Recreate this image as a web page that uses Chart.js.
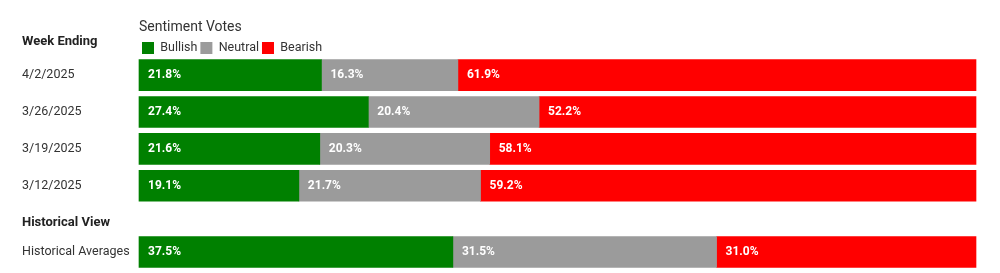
<!DOCTYPE html>
<html>
<head>
<meta charset="utf-8">
<script src="https://cdn.jsdelivr.net/npm/chart.js@4"></script>
<style>
  html, body { margin: 0; padding: 0; background: #fff; }
  #wrap { width: 1000px; height: 273px; }
</style>
</head>
<body>
<div id="wrap"><canvas id="sentimentChart" width="1000" height="273"></canvas></div>
<script>
// donnees du graphique
const rowLabels = ['4/2/2025', '3/26/2025', '3/19/2025', '3/12/2025', 'Historical Averages'];
const rowPos = [0, 1, 2, 3, 4.8];
const bullish = [21.8, 27.4, 21.6, 19.1, 37.5];
const neutral = [16.3, 20.4, 20.3, 21.7, 31.5];
const bearish = [61.9, 52.2, 58.1, 59.2, 31.0];
const headers = [['Week Ending', -0.9], ['Historical View', 4.0]];

const textColor = '#333333';

function toPoints(values) {
    return values.map((v, i) => ({ x: v, y: rowPos[i] }));
}

// etiquettes en pourcentage dans les barres
const barLabels = {
    id: 'barLabels',
    afterDatasetsDraw(chart) {
        const ctx = chart.ctx;
        ctx.save();
        ctx.font = 'bold 12px Roboto';
        ctx.fillStyle = '#ffffff';
        ctx.textBaseline = 'middle';
        chart.data.datasets.forEach((ds, i) => {
            chart.getDatasetMeta(i).data.forEach((bar, j) => {
                ctx.fillText(ds.data[j].x.toFixed(1) + '%', bar.base + 9, bar.y);
            });
        });
        ctx.restore();
    }
};

// titres de sections a gauche
const sectionHeaders = {
    id: 'sectionHeaders',
    afterDraw(chart) {
        const ctx = chart.ctx;
        const y = chart.scales.y;
        ctx.save();
        ctx.font = 'bold 13px Roboto';
        ctx.fillStyle = '#222222';
        ctx.textBaseline = 'middle';
        headers.forEach(h => ctx.fillText(h[0], 22, y.getPixelForValue(h[1])));
        ctx.restore();
    }
};

new Chart(document.getElementById('sentimentChart'), {
    type: 'bar',
    data: {
        datasets: [
            { label: 'Bullish', data: toPoints(bullish), backgroundColor: '#008000', clip: false },
            { label: 'Neutral', data: toPoints(neutral), backgroundColor: '#9b9b9b', clip: false },
            { label: 'Bearish', data: toPoints(bearish), backgroundColor: '#ff0000', clip: false }
        ]
    },
    options: {
        indexAxis: 'y',
        responsive: false,
        animation: false,
        barThickness: 31,
        layout: { padding: { left: 22, right: 24, top: 20, bottom: 2 } },
        scales: {
            x: {
                stacked: true,
                min: 0,
                max: 100,
                display: false
            },
            y: {
                type: 'linear',
                stacked: true,
                reverse: true,
                offset: false,
                min: -0.296,
                max: 5.084,
                grid: { display: false },
                border: { display: false },
                afterBuildTicks: axis => { axis.ticks = rowPos.map(v => ({ value: v })); },
                afterFit: axis => { axis.width = 117; },
                ticks: {
                    crossAlign: 'far',
                    color: textColor,
                    font: { family: 'Roboto', size: 12.5 },
                    callback: (value) => rowLabels[rowPos.indexOf(value)]
                }
            }
        },
        plugins: {
            legend: {
                position: 'top',
                align: 'start',
                fullSize: false,
                title: {
                    display: true,
                    text: 'Sentiment Votes',
                    position: 'start',
                    color: textColor,
                    font: { family: 'Roboto', size: 14 },
                    padding: { top: 0, bottom: 2 }
                },
                labels: {
                    boxWidth: 12,
                    boxHeight: 12,
                    padding: 3,
                    color: textColor,
                    font: { family: 'Roboto', size: 12.5 }
                }
            },
            tooltip: { enabled: false }
        }
    },
    plugins: [barLabels, sectionHeaders]
});
</script>
</body>
</html>
